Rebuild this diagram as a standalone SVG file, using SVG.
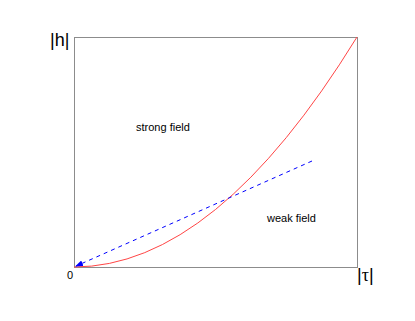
<svg xmlns="http://www.w3.org/2000/svg" width="415" height="321" viewBox="0 0 415 321">
<style>
.lbl{font-family:"Liberation Sans",Arial,sans-serif;fill:#000}
.ax{font-size:18px}
.sm{font-size:11px}
.serif{font-family:"Liberation Serif","Times New Roman",serif}
</style>
<defs>
<marker id="ah" markerWidth="8" markerHeight="6" refX="7" refY="3" orient="auto" markerUnits="userSpaceOnUse">
<path d="M0,0 L8,3 L0,6 z" fill="#0000ff"/>
</marker>
</defs>
<rect x="0" y="0" width="415" height="321" fill="#fff"/>
<g id="frame">
<rect x="74.5" y="37.5" width="283" height="230" fill="none" stroke="#8c8c8c" stroke-width="1"/>
</g>
<g id="connectors">
<path id="strong-curve" d="M74,267 Q215.5,267 357,37" fill="none" stroke="#ff4545" stroke-width="1"/>
<line id="weak-line" x1="312" y1="161" x2="76" y2="266.1" stroke="#0000ff" stroke-width="1" stroke-dasharray="4,4" marker-end="url(#ah)"/>
</g>
<g id="labels">
<text class="lbl ax" x="50" y="46">|h|</text>
<text class="lbl ax" x="357" y="281">|<tspan class="serif">τ</tspan>|</text>
<text class="lbl sm" x="67" y="279">0</text>
<text class="lbl sm" x="136" y="131">strong field</text>
<text class="lbl sm" x="267" y="222">weak field</text>
</g>
</svg>
